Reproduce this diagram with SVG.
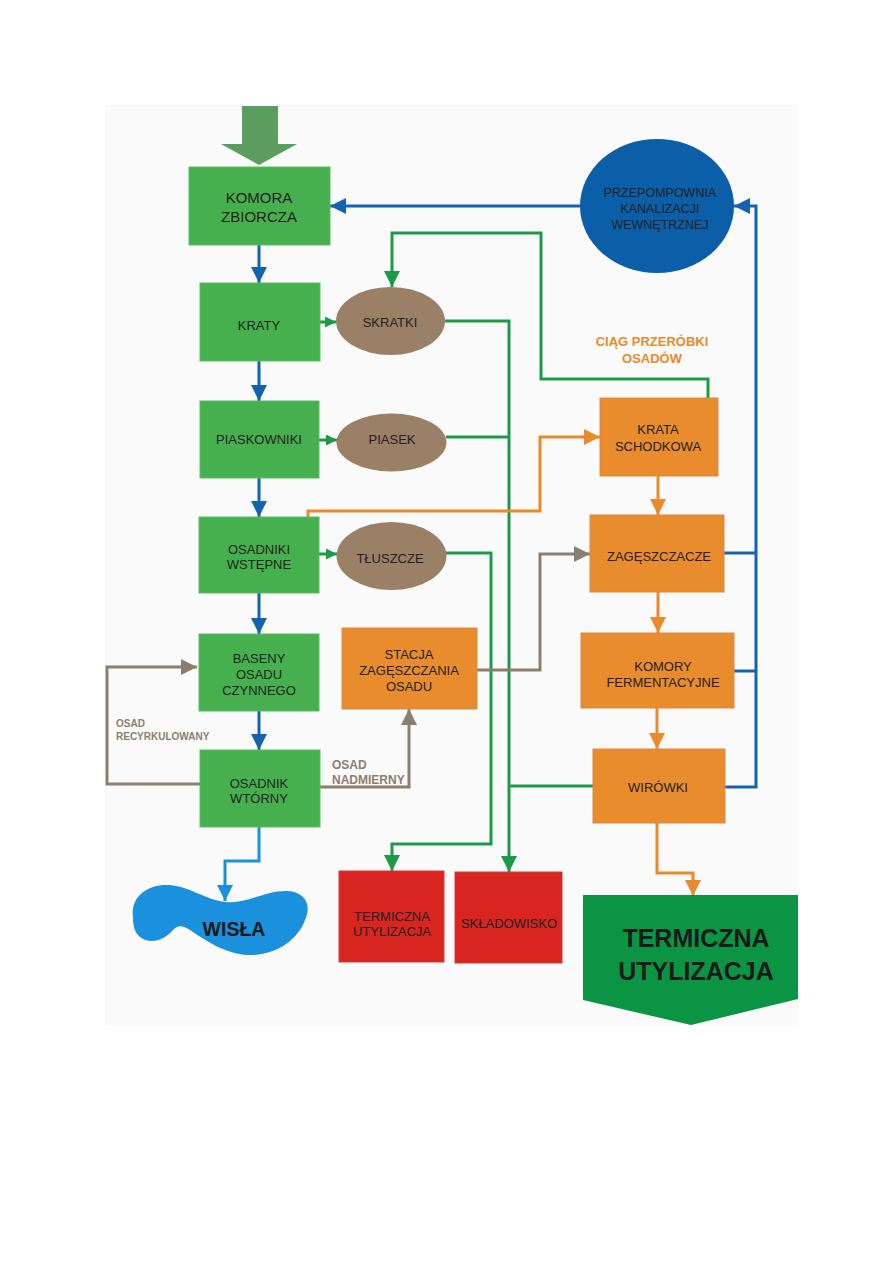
<svg xmlns="http://www.w3.org/2000/svg" width="893" height="1263" viewBox="0 0 893 1263">
<defs>
<style>
.t{font-family:"Liberation Sans",Arial,sans-serif;font-size:13px;fill:#222;text-anchor:middle;dominant-baseline:central}
.b{font-family:"Liberation Sans",Arial,sans-serif;font-weight:bold;text-anchor:middle}
.g{fill:#46b04e;stroke:#5cbc63;stroke-width:1}
.o{fill:#e98c2e;stroke:#d98a45;stroke-width:1}
.r{fill:#d82520;stroke:#c9413a;stroke-width:1}
.br{fill:#9a8066}
.ln{fill:none;stroke-width:3;stroke-linejoin:miter}
.blue{stroke:#1463b0}
.green{stroke:#1c9a4a}
.orange{stroke:#e98a2c}
.gray{stroke:#8c7e6e}
.lblue{stroke:#1b90dc}
.lab{font-family:"Liberation Sans",Arial,sans-serif;font-weight:bold;fill:#8c7e6e}
</style>
<marker id="mb" markerUnits="userSpaceOnUse" markerWidth="16" markerHeight="16" refX="16" refY="8" orient="auto"><path d="M0,0 L16,8 L0,16 Z" fill="#1463b0"/></marker>
<marker id="mg" markerUnits="userSpaceOnUse" markerWidth="16" markerHeight="16" refX="16" refY="8" orient="auto"><path d="M0,0 L16,8 L0,16 Z" fill="#1c9a4a"/></marker>
<marker id="mgs" markerUnits="userSpaceOnUse" markerWidth="11" markerHeight="11" refX="11" refY="5.5" orient="auto"><path d="M0,0 L11,5.5 L0,11 Z" fill="#1c9a4a"/></marker>
<marker id="mo" markerUnits="userSpaceOnUse" markerWidth="16" markerHeight="16" refX="16" refY="8" orient="auto"><path d="M0,0 L16,8 L0,16 Z" fill="#e98a2c"/></marker>
<marker id="mgr" markerUnits="userSpaceOnUse" markerWidth="16" markerHeight="16" refX="16" refY="8" orient="auto"><path d="M0,0 L16,8 L0,16 Z" fill="#8c7e6e"/></marker>
<marker id="mlb" markerUnits="userSpaceOnUse" markerWidth="16" markerHeight="16" refX="16" refY="8" orient="auto"><path d="M0,0 L16,8 L0,16 Z" fill="#1b90dc"/></marker>
</defs>
<rect x="0" y="0" width="893" height="1263" fill="#ffffff"/>
<rect x="105" y="105" width="693" height="920" fill="#fafafa"/>

<g id="connectors">
<path class="ln blue" d="M259,245 L259,283" marker-end="url(#mb)"/>
<path class="ln blue" d="M259,361 L259,401" marker-end="url(#mb)"/>
<path class="ln blue" d="M259,478 L259,517" marker-end="url(#mb)"/>
<path class="ln blue" d="M259,593 L259,634" marker-end="url(#mb)"/>
<path class="ln blue" d="M259,711 L259,750" marker-end="url(#mb)"/>
<path class="ln blue" d="M581,206 L330,206" marker-end="url(#mb)"/>
<path class="ln blue" d="M725,787 L756,787 L756,206 L734,206" marker-end="url(#mb)"/>
<path class="ln blue" d="M724,553 L756,553"/>
<path class="ln blue" d="M734,671 L756,671"/>

<path class="ln green" d="M320,322 L336,322" marker-end="url(#mgs)"/>
<path class="ln green" d="M319,440 L337,440" marker-end="url(#mgs)"/>
<path class="ln green" d="M319,554 L337,554" marker-end="url(#mgs)"/>
<path class="ln green" d="M708,398 L708,379 L541,379 L541,233 L392,233 L392,287" marker-end="url(#mg)"/>
<path class="ln green" d="M445,321 L509,321 L509,872" marker-end="url(#mg)"/>
<path class="ln green" d="M446,437 L509,437"/>
<path class="ln green" d="M446,553 L491,553 L491,844 L392,844 L392,871" marker-end="url(#mg)"/>
<path class="ln green" d="M593,786 L509,786"/>

<path class="ln orange" d="M308,517 L308,511 L540,511 L540,437 L600,437" marker-end="url(#mo)"/>
<path class="ln orange" d="M658,476 L658,515" marker-end="url(#mo)"/>
<path class="ln orange" d="M658,592 L658,633" marker-end="url(#mo)"/>
<path class="ln orange" d="M657,708 L657,749" marker-end="url(#mo)"/>
<path class="ln orange" d="M657,823 L657,873 L693,873 L693,896" marker-end="url(#mo)"/>

<path class="ln gray" d="M477,670 L540,670 L540,554 L590,554" marker-end="url(#mgr)"/>
<path class="ln gray" d="M320,787 L409,787 L409,709" marker-end="url(#mgr)"/>
<path class="ln gray" d="M200,784 L107,784 L107,667 L197,667" marker-end="url(#mgr)"/>

<path class="ln lblue" d="M259,827 L259,861 L225,861 L225,901" marker-end="url(#mlb)"/>
</g>

<g id="inflow"><polygon points="242,106 278,106 278,144 297,144 259,165 221,144 242,144" fill="#5b9c5f"/></g>

<g id="komora"><rect class="g" x="189" y="167" width="141" height="78"/><text class="t" x="259" y="197" style="font-size:15px">KOMORA</text><text class="t" x="259" y="216" style="font-size:15px">ZBIORCZA</text></g>
<g id="kraty"><rect class="g" x="200" y="283" width="120" height="78"/><text class="t" x="259" y="325">KRATY</text></g>
<g id="piaskowniki"><rect class="g" x="200" y="401" width="119" height="77"/><text class="t" x="259" y="439">PIASKOWNIKI</text></g>
<g id="osadniki"><rect class="g" x="199" y="517" width="120" height="76"/><text class="t" x="259" y="549">OSADNIKI</text><text class="t" x="259" y="564">WSTĘPNE</text></g>
<g id="baseny"><rect class="g" x="199" y="634" width="120" height="77"/><text class="t" x="259" y="658">BASENY</text><text class="t" x="259" y="674">OSADU</text><text class="t" x="259" y="690">CZYNNEGO</text></g>
<g id="osadnik-wtorny"><rect class="g" x="200" y="750" width="120" height="77"/><text class="t" x="259" y="783">OSADNIK</text><text class="t" x="259" y="798">WTÓRNY</text></g>

<g id="skratki"><ellipse class="br" cx="390.5" cy="321" rx="54.5" ry="34"/><text class="t" x="390" y="322">SKRATKI</text></g>
<g id="piasek"><ellipse class="br" cx="391.5" cy="442.5" rx="55" ry="29"/><text class="t" x="392" y="439">PIASEK</text></g>
<g id="tluszcze"><ellipse class="br" cx="391.5" cy="556" rx="55" ry="34"/><text class="t" x="390" y="558">TŁUSZCZE</text></g>

<g id="stacja"><rect class="o" x="342" y="628" width="135" height="81"/><text class="t" x="409" y="654">STACJA</text><text class="t" x="409" y="670">ZAGĘSZCZANIA</text><text class="t" x="409" y="686">OSADU</text></g>

<g id="przepompownia"><ellipse cx="657" cy="206" rx="77" ry="67" fill="#0b5ea8"/><text class="t" x="660" y="193" style="font-size:12.5px">PRZEPOMPOWNIA</text><text class="t" x="660" y="209" style="font-size:12.5px">KANALIZACJI</text><text class="t" x="660" y="225" style="font-size:12.5px">WEWNĘTRZNEJ</text></g>

<g id="ciag-label"><text class="b" x="652" y="346" style="font-size:13px;fill:#e98a2c">CIĄG PRZERÓBKI</text><text class="b" x="652" y="363" style="font-size:13px;fill:#e98a2c">OSADÓW</text></g>

<g id="krata-schodkowa"><rect class="o" x="600" y="398" width="118" height="78"/><text class="t" x="658" y="429">KRATA</text><text class="t" x="658" y="446">SCHODKOWA</text></g>
<g id="zageszczacze"><rect class="o" x="590" y="515" width="134" height="77"/><text class="t" x="659" y="556">ZAGĘSZCZACZE</text></g>
<g id="komory"><rect class="o" x="581" y="633" width="153" height="75"/><text class="t" x="663" y="666">KOMORY</text><text class="t" x="663" y="682">FERMENTACYJNE</text></g>
<g id="wirowki"><rect class="o" x="593" y="749" width="132" height="74"/><text class="t" x="658" y="787">WIRÓWKI</text></g>

<g id="termiczna-red"><rect class="r" x="339" y="871" width="105" height="91"/><text class="t" x="392" y="916">TERMICZNA</text><text class="t" x="392" y="931">UTYLIZACJA</text></g>
<g id="skladowisko"><rect class="r" x="455" y="872" width="107" height="91"/><text class="t" x="509" y="923">SKŁADOWISKO</text></g>

<g id="termiczna-big"><polygon points="583,895 798,895 798,999 691,1025 583,1000" fill="#0a9444"/><text class="b" x="696" y="947" style="font-size:25px;fill:#1a1a1a">TERMICZNA</text><text class="b" x="696" y="980" style="font-size:25px;fill:#1a1a1a">UTYLIZACJA</text></g>

<g id="wisla"><path d="M133,917 C130,895 150,884 168,885 C190,886 205,900 226,902 C248,904 265,890 288,891 C305,892 312,905 305,920 C298,940 275,956 248,955 C225,954 205,940 190,930 C182,925 178,925 173,930 C165,940 150,945 140,937 C134,932 133,925 133,917 Z" fill="#1b90dc"/><text class="b" x="234" y="936" style="font-size:19.5px;fill:#1a1a1a">WISŁA</text></g>

<g id="labels"><text class="lab" x="116" y="727" style="font-size:10px">OSAD</text><text class="lab" x="116" y="740" style="font-size:10px">RECYRKULOWANY</text><text class="lab" x="332" y="769" style="font-size:12px">OSAD</text><text class="lab" x="332" y="784" style="font-size:12px">NADMIERNY</text></g>
</svg>
